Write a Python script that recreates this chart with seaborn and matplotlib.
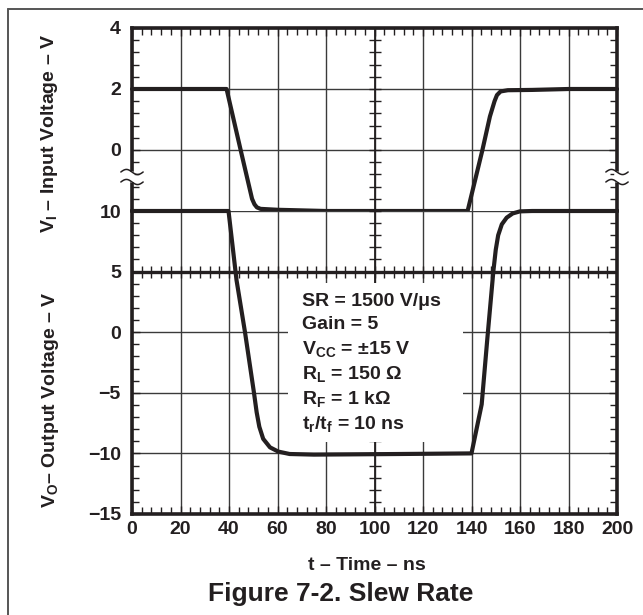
import numpy as np
import pandas as pd
import matplotlib
matplotlib.use("Agg")
import matplotlib.pyplot as plt
from matplotlib.ticker import MultipleLocator
from matplotlib.lines import Line2D
from matplotlib.patches import Rectangle
import seaborn as sns

# ---------------- data ----------------
t_in = [0, 39, 44.8, 49.5, 50.5, 51.5, 53, 60, 80, 100, 138.4, 144.5, 147.6,
        149.5, 150.5, 152, 155, 165, 180, 200]
v_in = [2, 2, 0, -1.6, -1.78, -1.88, -1.93, -1.96, -2.0, -2.0, -2.0, 0, 1.1,
        1.6, 1.8, 1.92, 1.96, 1.97, 2.0, 2.0]

t_out = [0, 39.8, 43.1, 46.6, 50.3, 51.4, 52.5, 54.1, 56.9, 60.3, 65, 75, 90,
         110, 140, 144.2, 146.5, 149, 150, 151, 152.5, 154.5, 157, 160, 165, 200]
v_out = [10, 10, 4.3, 0, -5, -6.6, -7.8, -8.8, -9.5, -9.85, -10.05, -10.1,
         -10.08, -10.05, -10.0, -5.95, -0.6, 5, 6.8, 8.0, 8.9, 9.45, 9.8, 9.97,
         10, 10]

in_yticks = [0, 2, 4]
out_yticks = [-15, -10, -5, 0, 5, 10]
x_ticks = [0, 20, 40, 60, 80, 100, 120, 140, 160, 180, 200]

notes = [r"SR = 1500 V/μs", r"Gain = 5", r"V$_{\rm CC}$ = ±15 V",
         r"R$_{\rm L}$ = 150 Ω", r"R$_{\rm F}$ = 1 kΩ",
         r"t$_{\rm r}$/t$_{\rm f}$ = 10 ns"]

# ---------------- style ----------------
sns.set_style("white")
FONT = "Liberation Sans"
plt.rcParams["font.family"] = [FONT, "DejaVu Sans"]
plt.rcParams["font.weight"] = "bold"
plt.rcParams["mathtext.fontset"] = "custom"
plt.rcParams["mathtext.rm"] = f"{FONT}:bold"
plt.rcParams["mathtext.it"] = f"{FONT}:bold"
plt.rcParams["mathtext.bf"] = f"{FONT}:bold"
plt.rcParams["axes.unicode_minus"] = True

INK = "#231f20"
GRID = "#3a3a3a"
W, H = 643, 615

fig = plt.figure(figsize=(W / 100, H / 100), dpi=100)
fig.patch.set_facecolor("white")

ax_top = fig.add_axes([132 / W, 1 - 211 / H, 485 / W, 183 / H])
ax_bot = fig.add_axes([132 / W, 1 - 514 / H, 485 / W, 303 / H])

df_in = pd.DataFrame({"t": t_in, "v": v_in})
df_out = pd.DataFrame({"t": t_out, "v": v_out})

sns.lineplot(data=df_in, x="t", y="v", ax=ax_top, color=INK, lw=3.0,
             sort=False, estimator=None, zorder=5, clip_on=False)
sns.lineplot(data=df_out, x="t", y="v", ax=ax_bot, color=INK, lw=3.0,
             sort=False, estimator=None, zorder=5, clip_on=False)

for ax in (ax_top, ax_bot):
    ax.set_xlim(0, 200)
    ax.set_xticks(x_ticks)
    ax.xaxis.set_minor_locator(MultipleLocator(4))
    ax.set_axisbelow(True)
    ax.grid(True, which="major", color=GRID, lw=1.0)
    ax.set_xlabel("")
    ax.set_ylabel("")
    for s in ax.spines.values():
        s.set_color(INK)
        s.set_linewidth(2.6)
    ax.tick_params(which="both", direction="in", colors=INK, labelcolor=INK,
                   labelsize=14, right=True, left=True, width=1.0)
    ax.tick_params(which="major", length=6)
    ax.tick_params(which="minor", length=5)
    ax.tick_params(axis="y", pad=8)
    ax.set_facecolor("white")

# top axes (input)
ax_top.set_ylim(-2, 4)
ax_top.set_yticks(in_yticks)
ax_top.yaxis.set_minor_locator(MultipleLocator(0.4))
ax_top.spines["bottom"].set_visible(False)
ax_top.tick_params(axis="x", which="both", top=True, bottom=False,
                   labelbottom=False)

# bottom axes (output)
ax_bot.set_ylim(-15, 10)
ax_bot.set_yticks(out_yticks)
ax_bot.yaxis.set_minor_locator(MultipleLocator(1))
ax_bot.spines["top"].set_visible(False)
ax_bot.tick_params(axis="x", which="both", top=False, bottom=True, pad=5)
ax_bot.set_xticklabels([str(v) for v in x_ticks])

for lab in ax_bot.get_xticklabels() + ax_bot.get_yticklabels() + ax_top.get_yticklabels():
    lab.set_fontweight("bold")

# center axis lines with ticks on both sides
xm = np.arange(0, 201, 4)
ax_bot.axhline(5, color=INK, lw=2.4, zorder=2)
ax_bot.plot(xm, np.full_like(xm, 5.0, dtype=float), ls="none", marker="|",
            ms=8, mew=1.0, color=INK, zorder=2)
ax_top.axvline(100, color=INK, lw=1.3, zorder=1.2)
yt = np.arange(-2, 4.01, 0.4)
ax_top.plot(np.full_like(yt, 100.0), yt, ls="none", marker="_", ms=9, mew=1.0,
            color=INK, zorder=1.2)
ax_bot.axvline(100, color=INK, lw=1.3, zorder=1.2)
yb = np.arange(-15, 10.01, 1)
ax_bot.plot(np.full_like(yb, 100.0, dtype=float), yb, ls="none", marker="_",
            ms=9, mew=1.0, color=INK, zorder=1.2)

# annotation box
ax_bot.add_patch(Rectangle((64.3, -9.1), 72.2, 13.2, facecolor="white",
                           edgecolor="none", zorder=1.5))
note_y = [2.20, 0.23, -1.83, -3.89, -5.95, -8.0]
for txt, yy in zip(notes, note_y):
    ax_bot.text(70.0, yy, txt, fontsize=14, fontweight="bold", color=INK,
                ha="left", va="baseline", zorder=6)

# axis break marks (left and right spines)
y1, y2 = (211 - 172) / 183, (211 - 182) / 183
for xs in (0.0, 1.0):
    ax_top.plot([xs, xs], [y2 + 0.01, y1 - 0.01], transform=ax_top.transAxes,
                color="white", lw=4, clip_on=False, zorder=10)
    u = np.linspace(-1, 1, 40)
    for yc in (y1, y2):
        ax_top.plot(xs + u * 0.023, yc + 0.014 * np.sin(np.pi * u) * -1,
                    transform=ax_top.transAxes, color=INK, lw=1.1,
                    clip_on=False, zorder=11)

# labels
fig.text(50 / W, 1 - 133 / H, r"V$_{\rm I}$ – Input Voltage – V", rotation=90,
         ha="center", va="center", fontsize=14, fontweight="bold", color=INK)
fig.text(51 / W, 1 - 400 / H, r"V$_{\rm O}$– Output Voltage – V", rotation=90,
         ha="center", va="center", fontsize=14, fontweight="bold", color=INK)
fig.text(367 / W, 1 - 565 / H, "t – Time – ns", ha="center", va="center",
         fontsize=14, fontweight="bold", color=INK)
fig.text(341 / W, 1 - 594 / H, "Figure 7-2. Slew Rate", ha="center",
         va="center", fontsize=19, fontweight="bold", color=INK)

# outer frame (top and left)
fig.add_artist(Line2D([8 / W, 1.0], [1 - 9 / H, 1 - 9 / H],
                      transform=fig.transFigure, color="#555555", lw=1.4))
fig.add_artist(Line2D([8 / W, 8 / W], [0, 1 - 9 / H],
                      transform=fig.transFigure, color="#555555", lw=1.4))

fig.savefig("out.png", dpi=100, facecolor="white")
